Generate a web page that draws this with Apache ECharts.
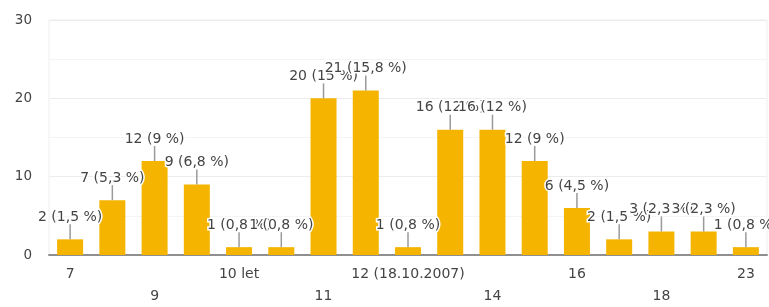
<!DOCTYPE html>
<html>
<head>
<meta charset="utf-8">
<script src="https://cdn.jsdelivr.net/npm/echarts@6/dist/echarts.min.js"></script>
<style>
html,body{margin:0;padding:0;background:#fff;}
#chart{width:769px;height:307px;}
</style>
</head>
<body>
<div id="chart"></div>
<script>
var categories = ['7', '8', '9', '10', '10 let', '10,5', '11', '12', '12 (18.10.2007)', '13', '14', '15', '16', '17', '18', '19', '23'];
var counts = [2, 7, 12, 9, 1, 1, 20, 21, 1, 16, 16, 12, 6, 2, 3, 3, 1];
var yTicks = [0, 10, 20, 30];

var total = counts.reduce(function (a, b) { return a + b; }, 0);
function pctText(v) {
  var p = Math.round(v / total * 1000) / 10;
  var s = (p % 1 === 0) ? String(p) : p.toFixed(1);
  return v + ' (' + s.replace('.', ',') + ' %)';
}

var FONT = 'DejaVu Sans';
var chart = echarts.init(document.getElementById('chart'), null, {renderer: 'canvas'});
chart.setOption({
  animation: false,
  grid: {left: 49, right: 2, top: 20, bottom: 49, show: true, borderColor: '#efefef', borderWidth: 1},
  xAxis: {
    type: 'category',
    data: categories,
    axisTick: {show: false},
    axisLine: {show: true, lineStyle: {color: '#8f8f8f', width: 2}},
    axisLabel: {
      interval: 1,
      margin: 8,
      color: '#444',
      fontFamily: FONT,
      fontSize: 14,
      lineHeight: 22,
      formatter: function (v, i) { return (i % 4 === 2) ? '\n' + v : v; }
    },
    splitLine: {show: false}
  },
  yAxis: {
    type: 'value',
    min: yTicks[0],
    max: yTicks[yTicks.length - 1],
    interval: 10,
    axisLine: {show: false},
    axisTick: {show: false},
    axisLabel: {color: '#444', fontFamily: FONT, fontSize: 13.5, margin: 17},
    splitLine: {show: true, lineStyle: {color: '#ececec', width: 1}},
    minorTick: {show: false, splitNumber: 2},
    minorSplitLine: {show: true, lineStyle: {color: '#f4f4f4', width: 1}}
  },
  series: [
    {
      type: 'bar',
      data: counts,
      barWidth: 26,
      itemStyle: {color: '#f4b400'},
      z: 2,
      label: {
        show: true,
        position: 'top',
        distance: 15,
        color: '#444',
        fontFamily: FONT,
        fontSize: 14,
        textBorderColor: '#fff',
        textBorderWidth: 3,
        formatter: function (p) { return pctText(p.value); }
      }
    },
    {
      type: 'custom',
      data: counts.map(function (v, i) { return [i, v]; }),
      z: 3,
      silent: true,
      renderItem: function (params, api) {
        var pt = api.coord([api.value(0), api.value(1)]);
        return {
          type: 'line',
          shape: {x1: pt[0], y1: pt[1], x2: pt[0], y2: pt[1] - 15},
          style: {stroke: '#9a9a9a', lineWidth: 1.5}
        };
      }
    }
  ]
});
</script>
</body>
</html>
